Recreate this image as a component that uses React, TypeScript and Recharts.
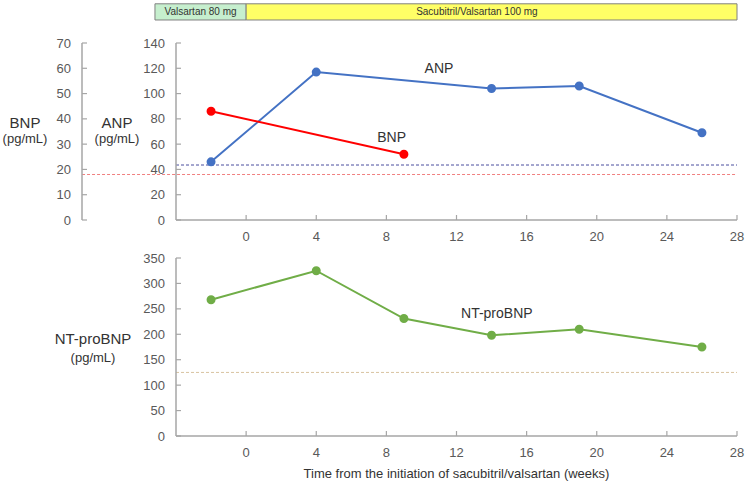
import React from 'react';
import { LineChart, Line, XAxis, YAxis, ReferenceLine, ReferenceArea, ReferenceDot, Label } from 'recharts';

const xTicks = [0, 4, 8, 12, 16, 20, 24, 28];
const anpTicks = [0, 20, 40, 60, 80, 100, 120, 140];
const bnpTicks = [0, 10, 20, 30, 40, 50, 60, 70];
const ntTicks = [0, 50, 100, 150, 200, 250, 300, 350];

const anpWeeks = [-2, 4, 14, 19, 26];
const anpValues = [46, 117, 104, 106, 69];
const bnpWeeks = [-2, 9];
const bnpValues = [43, 26];
const ntWeeks = [-2, 4, 9, 14, 19, 26];
const ntValues = [268, 325, 231, 198, 210, 175];

const anpRef = 43.5;
const bnpRef = 18;
const ntRef = 125;

const treatments = [
  { name: 'Valsartan 80 mg', from: -5.2, to: 0, fill: '#C6EFCE' },
  { name: 'Sacubitril/Valsartan 100 mg', from: 0, to: 28, fill: '#FFFF66' },
];

const anpData = anpWeeks.map((w, i) => ({ w, v: anpValues[i] }));
const bnpData = bnpWeeks.map((w, i) => ({ w, v: bnpValues[i] }));
const ntData = ntWeeks.map((w, i) => ({ w, v: ntValues[i] }));

const AXIS = '#A6A6A6';
const TICK = '#595959';
const TEXT = '#333333';
const FONT = 'Arial, "Liberation Sans", sans-serif';

const XTick = (props: any) => {
  const { x, y, payload } = props;
  return (
    <g>
      <line x1={x} x2={x} y1={y} y2={y - 5} stroke={AXIS} strokeWidth={1.2} />
      <text x={x} y={y + 16} dy="0.35em" textAnchor="middle" fill={TICK} fontSize={13} fontFamily={FONT}>
        {payload.value}
      </text>
    </g>
  );
};

const YTick = (props: any) => {
  const { x, y, payload } = props;
  return (
    <g>
      <line x1={x} x2={x + 5} y1={y} y2={y} stroke={AXIS} strokeWidth={1.2} />
      <text x={x - 11} y={y} dy="0.35em" textAnchor="end" fill={TICK} fontSize={13} fontFamily={FONT}>
        {payload.value}
      </text>
    </g>
  );
};

const axisLabel = (name: string, cx: number, nameDy: number, unitDy: number) => (props: any) => {
  const vb = props.viewBox;
  const mid = vb.y + vb.height / 2;
  return (
    <g fontFamily={FONT}>
      <text x={vb.x + cx} y={mid + nameDy} dy="0.35em" textAnchor="middle" fill={TEXT} fontSize={15}>
        {name}
      </text>
      <text x={vb.x + cx} y={mid + unitDy} dy="0.35em" textAnchor="middle" fill={TEXT} fontSize={13}>
        (pg/mL)
      </text>
    </g>
  );
};

const xTitle = (props: any) => {
  const vb = props.viewBox;
  return (
    <text x={vb.x + vb.width / 2} y={vb.y + 37} dy="0.35em" textAnchor="middle" fill={TEXT} fontSize={13} fontFamily={FONT}>
      Time from the initiation of sacubitril/valsartan (weeks)
    </text>
  );
};

export default function App() {
  return (
    <div style={{ position: 'absolute', left: 0, top: 0, width: 750, height: 482, background: '#fff', fontFamily: FONT }}>
      <div style={{ position: 'absolute', left: 0, top: 0 }}>
        <LineChart width={750} height={250} margin={{ top: 43, right: 13, bottom: 10, left: 0 }}>
          <XAxis
            type="number"
            dataKey="w"
            domain={[-4, 28]}
            ticks={xTicks}
            allowDataOverflow
            height={20}
            tickSize={0}
            tickMargin={0}
            tickLine={false}
            axisLine={{ stroke: AXIS, strokeWidth: 1.5 }}
            tick={<XTick />}
          />
          <YAxis
            yAxisId="anp"
            type="number"
            domain={[0, 140]}
            ticks={anpTicks}
            allowDataOverflow
            width={94}
            tickSize={0}
            tickMargin={0}
            tickLine={false}
            axisLine={{ stroke: AXIS, strokeWidth: 1.5 }}
            tick={<YTick />}
            label={<Label content={axisLabel('ANP', 35, -9, 6.5)} />}
          />
          <YAxis
            yAxisId="bnp"
            type="number"
            domain={[0, 70]}
            ticks={bnpTicks}
            allowDataOverflow
            width={82}
            tickSize={0}
            tickMargin={0}
            tickLine={false}
            axisLine={{ stroke: AXIS, strokeWidth: 1.5 }}
            tick={<YTick />}
            label={<Label content={axisLabel('BNP', 25, -9, 6.5)} />}
          />
          {treatments.map((t) => (
            <ReferenceArea
              key={t.name}
              yAxisId="anp"
              x1={t.from}
              x2={t.to}
              y1={158.2}
              y2={171}
              ifOverflow="visible"
              fill={t.fill}
              fillOpacity={1}
              stroke="#808080"
              strokeWidth={1}
              label={
                t.from < 0
                  ? { value: t.name, position: 'center', fontSize: 10, fill: TEXT, fontFamily: FONT }
                  : { value: t.name, position: 'insideLeft', offset: 170, fontSize: 10, fill: TEXT, fontFamily: FONT }
              }
            />
          ))}
          <ReferenceLine yAxisId="anp" y={anpRef} stroke="#4B4F9E" strokeDasharray="3 2" strokeWidth={1} />
          <ReferenceLine
            yAxisId="bnp"
            segment={[{ x: -9.36, y: bnpRef }, { x: 28, y: bnpRef }]}
            ifOverflow="visible"
            stroke="#F08080"
            strokeDasharray="3 2"
            strokeWidth={1}
          />
          <Line
            yAxisId="anp"
            data={anpData}
            dataKey="v"
            stroke="#4472C4"
            strokeWidth={2}
            dot={{ r: 3.5, fill: '#4472C4', stroke: '#4472C4' }}
            isAnimationActive={false}
          />
          <Line
            yAxisId="bnp"
            data={bnpData}
            dataKey="v"
            stroke="#FF0000"
            strokeWidth={2}
            dot={{ r: 3.5, fill: '#FF0000', stroke: '#FF0000' }}
            isAnimationActive={false}
          />
          <ReferenceDot yAxisId="anp" x={11} y={120} r={0} fill="none" stroke="none"
            label={{ value: 'ANP', position: 'center', fontSize: 14, fill: TEXT, fontFamily: FONT }} />
          <ReferenceDot yAxisId="bnp" x={8.3} y={33} r={0} fill="none" stroke="none"
            label={{ value: 'BNP', position: 'center', fontSize: 14, fill: TEXT, fontFamily: FONT }} />
        </LineChart>
      </div>
      <div style={{ position: 'absolute', left: 0, top: 240 }}>
        <LineChart width={750} height={242} margin={{ top: 18, right: 13, bottom: 0, left: 0 }}>
          <XAxis
            type="number"
            dataKey="w"
            domain={[-4, 28]}
            ticks={xTicks}
            allowDataOverflow
            height={46}
            tickSize={0}
            tickMargin={0}
            tickLine={false}
            axisLine={{ stroke: AXIS, strokeWidth: 1.5 }}
            tick={<XTick />}
            label={<Label content={xTitle} />}
          />
          <YAxis
            type="number"
            domain={[0, 350]}
            ticks={ntTicks}
            allowDataOverflow
            width={176}
            tickSize={0}
            tickMargin={0}
            tickLine={false}
            axisLine={{ stroke: AXIS, strokeWidth: 1.5 }}
            tick={<YTick />}
            label={<Label content={axisLabel('NT-proBNP', 93, -8, 10)} />}
          />
          <ReferenceLine y={ntRef} stroke="#D9C3A0" strokeDasharray="3 2" strokeWidth={1} />
          <Line
            data={ntData}
            dataKey="v"
            stroke="#70AD47"
            strokeWidth={2}
            dot={{ r: 3.5, fill: '#70AD47', stroke: '#70AD47' }}
            isAnimationActive={false}
          />
          <ReferenceDot x={14.3} y={241} r={0} fill="none" stroke="none"
            label={{ value: 'NT-proBNP', position: 'center', fontSize: 14, fill: TEXT, fontFamily: FONT }} />
        </LineChart>
      </div>
    </div>
  );
}
